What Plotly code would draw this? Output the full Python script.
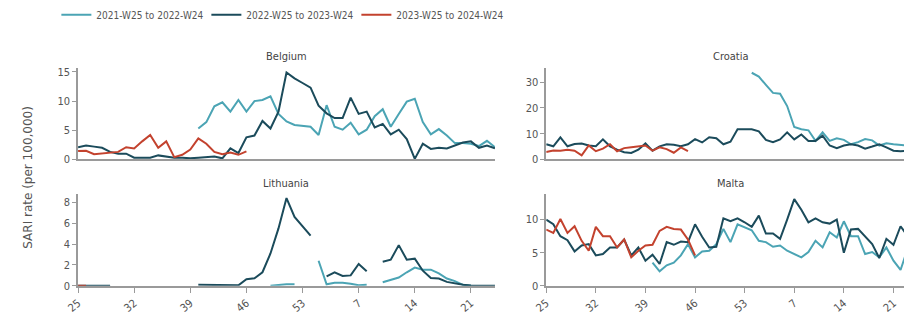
import plotly.graph_objects as go

# ISO weeks of the season, week 25 through week 24 of the following year
weeks = [f"W{w:02d}" for w in list(range(25, 54)) + list(range(1, 25))]
tick_weeks = ["W25", "W32", "W39", "W46", "W53", "W07", "W14", "W21"]
tick_text = ["25", "32", "39", "46", "53", "7", "14", "21"]

N = None
season_names = ["2021-W25 to 2022-W24", "2022-W25 to 2023-W24", "2023-W25 to 2024-W24"]
season_colors = ["#4ba4b4", "#1b4b5b", "#c3422e"]

# SARI rate per 100,000, one list per season and country (None = no report)
belgium_2122 = [N] * 15 + [5.3, 6.4, 9.1, 9.8, 8.2, 10.2, 8.2, 10.0, 10.2, 10.8,
                           7.8, 6.5, 5.9, 5.7, 5.6, 4.2, 9.3, 5.6, 5.1, 6.3,
                           4.3, 5.1, 7.4, 8.6, 5.6, 7.8, 9.9, 10.4, 6.4, 4.3,
                           5.2, 4.1, 2.8, 2.8, 2.7, 2.3, 3.2, 2.1]
belgium_2223 = [2.1, 2.4, 2.2, 2.0, 1.3, 1.0, 1.0, 0.3, 0.3, 0.3,
                0.7, 0.45, 0.3, 0.3, 0.2, 0.3, 0.4, 0.5, 0.2, 1.9,
                1.1, 3.8, 4.1, 6.6, 5.3, 8.2, 14.9, 13.9, 13.1, 12.3,
                9.2, 7.9, 7.1, 7.1, 10.6, 7.8, 8.2, 5.5, 6.1, 4.3,
                5.1, 3.5, 0.1, 2.7, 1.8, 2.0, 1.9, 2.4, 2.9, 3.1,
                2.0, 2.4, 1.9]
belgium_2324 = [1.45, 1.5, 0.9, 1.0, 1.2, 1.3, 2.1, 1.9, 3.1, 4.2,
                2.0, 3.1, 0.4, 0.8, 1.7, 3.6, 2.7, 1.3, 0.9, 1.2,
                0.8, 1.4] + [N] * 31

croatia_2122 = [N] * 29 + [33.6, 32.1, 28.9, 25.8, 25.5, 20.7, 12.6, 11.7, 11.3, 7.2,
                           10.5, 7.2, 8.2, 7.6, 5.9, 6.7, 7.9, 7.4, 5.4, 6.3,
                           5.9, 5.6, 5.5, 5.2]
croatia_2223 = [5.9, 5.1, 8.6, 5.1, 6.0, 6.2, 5.4, 5.1, 7.8, 5.1,
                3.8, 2.8, 2.5, 3.8, 6.2, 3.4, 5.1, 5.9, 5.7, 5.1,
                5.9, 7.9, 6.6, 8.6, 8.2, 5.9, 6.9, 11.7, 11.7, 11.7,
                10.9, 7.6, 6.7, 7.8, 10.5, 7.8, 9.7, 7.2, 7.2, 9.2,
                5.4, 4.4, 5.4, 5.9, 5.4, 4.2, 5.0, 5.9, 4.7, 3.4,
                3.2, 3.4, 3.5]
croatia_2324 = [2.9, 3.5, 3.4, 3.8, 3.4, 1.6, 5.4, 3.2, 4.2, 5.9,
                3.2, 4.4, 4.7, 5.0, 5.4, 3.4, 4.7, 4.0, 2.6, 4.7,
                3.2] + [N] * 32

lithuania_2122 = ([N] * 24 + [0.0, 0.1, 0.15, 0.15, N, N,
                              2.4, 0.15, 0.3, 0.3, 0.2, 0.05, 0.1, N,
                              0.35, 0.6, 0.8, 1.3, 1.75, 1.55, 1.55, 1.2, 0.7, 0.45,
                              0.1, 0.0, N, N, N])
lithuania_2223 = ([0.0, 0.0, 0.0, 0.0, 0.0] + [N] * 10 +
                  [0.1, 0.1, 0.1, 0.1, 0.1, 0.05, 0.63, 0.72, 1.3, 3.1,
                   5.5, 8.4, 6.6, 5.7, 4.8, N, 0.9, 1.3, 0.95, 1.0,
                   2.1, 1.4, N, 2.3, 2.5, 3.9, 2.5, 2.6, 1.45, 0.76,
                   0.7, 0.38, 0.22, 0.1, 0.03, 0.0, 0.0, 0.0])
lithuania_2324 = [0.0, 0.0] + [N] * 51

malta_2122 = [N] * 15 + [3.5, 2.2, 3.1, 3.5, 4.6, 6.3, 4.3, 5.2, 5.3, 6.3,
                         8.6, 6.6, 9.3, 8.9, 8.4, 6.8, 6.6, 5.9, 6.1, 5.3,
                         4.8, 4.3, 5.1, 6.8, 5.8, 8.1, 7.3, 9.75, 7.5, 7.5,
                         4.8, 5.1, 4.3, 5.8, 3.8, 2.4, 5.6, 5.5]
malta_2223 = [10.0, 9.3, 7.5, 6.9, 5.2, 6.1, 6.3, 4.6, 4.8, 5.8,
              5.8, 7.0, 4.6, 5.8, 3.8, 4.7, 3.3, 6.6, 6.2, 6.7,
              6.6, 9.3, 7.4, 5.8, 5.9, 10.2, 9.75, 10.2, 9.6, 8.9,
              10.6, 7.9, 7.9, 7.1, 10.0, 13.1, 11.5, 9.6, 10.2, 9.6,
              9.4, 10.0, 5.0, 8.5, 8.6, 7.5, 6.3, 4.2, 7.1, 6.2,
              9.0, 7.5, 7.0]
malta_2324 = [8.5, 8.0, 10.1, 8.0, 9.0, 6.8, 5.3, 8.9, 7.5, 7.5,
              5.8, 7.0, 4.3, 5.3, 6.1, 6.2, 8.3, 8.9, 8.6, 8.5,
              7.0, 4.6] + [N] * 31

countries = ["Belgium", "Croatia", "Lithuania", "Malta"]
country_series = {
    "Belgium": [belgium_2122, belgium_2223, belgium_2324],
    "Croatia": [croatia_2122, croatia_2223, croatia_2324],
    "Lithuania": [lithuania_2122, lithuania_2223, lithuania_2324],
    "Malta": [malta_2122, malta_2223, malta_2324],
}
y_ticks = {
    "Belgium": [0, 5, 10, 15],
    "Croatia": [0, 10, 20, 30],
    "Lithuania": [0, 2, 4, 6, 8],
    "Malta": [0, 5, 10],
}
y_max = {"Belgium": 15.65, "Croatia": 35.4, "Lithuania": 8.75, "Malta": 13.8}

W, H = 904, 322
FONT = "DejaVu Sans Condensed, DejaVu Sans, sans-serif"
TEXT = "#555555"
AXIS = "#9a9a9a"

# panel boxes in pixels: (left, right, top, bottom)
boxes = {
    "Belgium": (66, 489, 68, 162),
    "Croatia": (541, 904, 68, 162),
    "Lithuania": (66, 489, 198, 292),
    "Malta": (541, 904, 198, 292),
}
# the right column is scaled for 52 weeks spanning 374 px and runs past the frame
x_span = {"Belgium": 52, "Lithuania": 52, "Croatia": (904 - 541) / 7.19, "Malta": (904 - 541) / 7.19}
title_x = {"Belgium": 277, "Croatia": 728, "Lithuania": 277, "Malta": 728}

fig = go.Figure()
layout = dict(
    width=W, height=H,
    margin=dict(l=0, r=0, t=0, b=0),
    paper_bgcolor="white", plot_bgcolor="white",
    font=dict(family=FONT, size=11, color=TEXT),
    showlegend=True,
    legend=dict(orientation="h", x=44 / W, xanchor="left", y=1 - 13 / H, yanchor="middle",
                font=dict(size=10, color=TEXT), itemwidth=30,
                entrywidth=105, entrywidthmode="pixels", traceorder="normal"),
)
annotations = []

for k, country in enumerate(countries):
    ax = "" if k == 0 else str(k + 1)
    l, r, t, b = boxes[country]
    bottom_row = country in ("Lithuania", "Malta")
    for s, (name, color) in enumerate(zip(season_names, season_colors)):
        fig.add_trace(go.Scatter(
            x=weeks, y=country_series[country][s], mode="lines", name=name,
            line=dict(color=color, width=2), connectgaps=False,
            legendgroup=name, showlegend=(k == 0),
            xaxis="x" + ax, yaxis="y" + ax,
        ))
    layout["xaxis" + ax] = dict(
        domain=[l / W, r / W], anchor="y" + ax,
        type="category", categoryorder="array", categoryarray=weeks,
        range=[0, x_span[country]],
        tickmode="array", tickvals=tick_weeks, ticktext=tick_text,
        showticklabels=bottom_row, ticks="outside" if bottom_row else "",
        ticklen=5, tickcolor=AXIS, tickangle=-40,
        tickfont=dict(size=11, color=TEXT),
        showline=True, linecolor=AXIS, linewidth=1.5,
        showgrid=False, zeroline=False, fixedrange=True,
    )
    layout["yaxis" + ax] = dict(
        domain=[1 - b / H, 1 - t / H], anchor="x" + ax,
        range=[0, y_max[country]],
        tickmode="array", tickvals=y_ticks[country],
        ticks="outside", ticklen=4, tickcolor=AXIS,
        tickfont=dict(size=11, color=TEXT),
        showline=True, linecolor=AXIS, linewidth=1.5,
        showgrid=False, zeroline=False, fixedrange=True,
    )
    annotations.append(dict(
        text=country, xref="paper", yref="paper",
        x=title_x[country] / W, y=1 - (t - 3) / H, xanchor="center", yanchor="bottom",
        showarrow=False, font=dict(size=11, color="#444444"),
    ))

annotations.append(dict(
    text="SARI rate (per 100,000)", xref="paper", yref="paper",
    x=15 / W, y=1 - 180 / H, xanchor="center", yanchor="middle", textangle=-90,
    showarrow=False, font=dict(family="DejaVu Sans, sans-serif", size=12, color=TEXT),
))
layout["annotations"] = annotations

fig.update_layout(**layout)
fig.write_html("out.html")
